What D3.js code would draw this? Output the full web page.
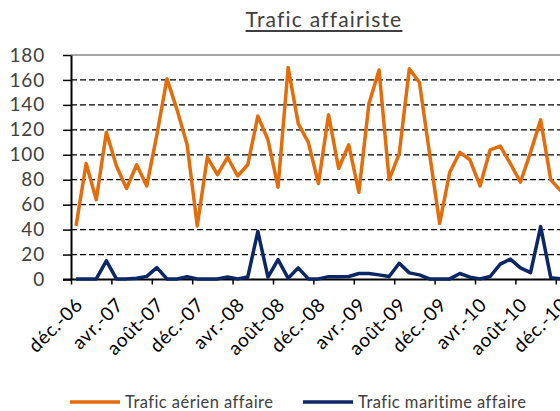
<!DOCTYPE html>
<html>
<head>
<meta charset="utf-8">
<script src="https://cdn.jsdelivr.net/npm/d3@7"></script>
<style>
  body { margin: 0; background: #fff; }
  svg { display: block; font-family: Lato, "Liberation Sans", sans-serif; }
</style>
</head>
<body>
<svg id="chart" width="560" height="411"></svg>
<script>
// monthly values, déc.-06 .. déc.-10
let aerien = [43, 93, 64, 118, 91, 73, 92, 75, 116, 161, 136, 108, 43, 98, 84, 98, 83, 92, 131, 112,
  74, 170, 125, 110, 77, 132, 89, 108, 70, 141, 168, 80, 101, 169, 158, 101, 45, 86, 102, 96,
  75, 104, 107, 93, 78, 102, 128, 80, 71];
let maritime = [0.5, 0.5, 0.5, 15, 0.5, 0.5, 1, 2.5, 9.5, 0.5, 0.5, 2.2, 0.5, 0.5, 0.5, 2, 0.5, 2, 38.5, 2,
  16, 1, 9.3, 0.5, 0.5, 2.3, 2.3, 2.4, 4.8, 4.8, 3.7, 2.4, 13, 5.3, 3.7, 0.5, 0.5, 0.5, 4.8, 1.9,
  0.5, 2.4, 12.3, 16.3, 9.3, 5.5, 42.4, 1.5, 0.5];
let tickLabels = ['déc.-06', 'avr.-07', 'août-07', 'déc.-07', 'avr.-08', 'août-08', 'déc.-08',
  'avr.-09', 'août-09', 'déc.-09', 'avr.-10', 'août-10', 'déc.-10'];
let yTicks = [0, 20, 40, 60, 80, 100, 120, 140, 160, 180];
let seriesNames = ['Trafic aérien affaire', 'Trafic maritime affaire'];

let orange = '#e46c0a';
let navy = '#0b2765';
let textGray = '#404040';

let svg = d3.select('#chart');
let plotLeft = 71, plotTop = 55, plotBottom = 279.5;
let step = 10.1;

let x = d3.scaleLinear()
  .domain([-0.5, aerien.length - 0.5])
  .range([plotLeft, plotLeft + aerien.length * step]);
let y = d3.scaleLinear().domain([0, 180]).range([plotBottom, plotTop]);
let plotRight = x.range()[1];

// title
let title = svg.append('text')
  .attr('x', 324)
  .attr('y', 27)
  .attr('text-anchor', 'middle')
  .attr('font-size', 21)
  .attr('letter-spacing', 1.2)
  .attr('fill', textGray)
  .text('Trafic affairiste');
let tb = title.node().getBBox();
svg.append('line')
  .attr('x1', tb.x).attr('x2', tb.x + tb.width)
  .attr('y1', 31).attr('y2', 31)
  .attr('stroke', '#000')
  .attr('stroke-width', 1.5);

// gridlines
svg.append('g')
  .selectAll('line')
  .data(yTicks.filter(function(d) { return d > 0 && d < 180; }))
  .join('line')
  .attr('x1', plotLeft).attr('x2', plotRight)
  .attr('y1', function(d) { return y(d); })
  .attr('y2', function(d) { return y(d); })
  .attr('stroke', '#000')
  .attr('stroke-width', 1.3)
  .attr('stroke-dasharray', '6,3');

svg.append('line')
  .attr('x1', plotLeft).attr('x2', plotRight)
  .attr('y1', y(180)).attr('y2', y(180))
  .attr('stroke', '#888')
  .attr('stroke-width', 1.5);

// y axis
let yAxis = svg.append('g')
  .attr('transform', 'translate(' + plotLeft + ',0)')
  .call(d3.axisLeft(y).tickValues(yTicks).tickSize(8).tickPadding(18).tickSizeOuter(0));
yAxis.select('.domain').attr('stroke', '#000').attr('stroke-width', 2);
yAxis.selectAll('.tick line').attr('stroke', '#000').attr('stroke-width', 1.5);
yAxis.selectAll('.tick text')
  .attr('font-size', 19)
  .attr('letter-spacing', 0.8)
  .attr('font-family', 'Lato, sans-serif')
  .attr('fill', textGray);

// x axis
let xTickVals = tickLabels.map(function(d, i) { return i * 4 - 0.5; });
let xAxis = svg.append('g')
  .attr('transform', 'translate(0,' + plotBottom + ')')
  .call(d3.axisBottom(x).tickValues(xTickVals).tickSize(5).tickSizeOuter(0)
    .tickFormat(function(d, i) { return tickLabels[i]; }));
xAxis.select('.domain').attr('stroke', '#000').attr('stroke-width', 2)
  .attr('d', 'M' + (plotLeft - 8) + ',0H' + plotRight);
xAxis.selectAll('.tick line').attr('stroke', '#000').attr('stroke-width', 1.5);
xAxis.selectAll('.tick text')
  .attr('font-size', 19)
  .attr('letter-spacing', 0.6)
  .attr('font-family', 'Lato, sans-serif')
  .attr('fill', '#000')
  .attr('text-anchor', 'end')
  .attr('transform', 'translate(3,17) rotate(-45)')
  .attr('dy', '0.71em')
  .attr('y', 0);

// lines
let line = d3.line()
  .x(function(d, i) { return x(i); })
  .y(function(d) { return y(d); });

svg.append('path')
  .datum(aerien)
  .attr('d', line)
  .attr('fill', 'none')
  .attr('stroke', orange)
  .attr('stroke-width', 3.5)
  .attr('stroke-linejoin', 'round');

svg.append('path')
  .datum(maritime)
  .attr('d', line)
  .attr('fill', 'none')
  .attr('stroke', navy)
  .attr('stroke-width', 3.5)
  .attr('stroke-linejoin', 'round');

// legend
let legend = svg.append('g');
let legendItems = [
  { name: seriesNames[0], color: orange, x: 70 },
  { name: seriesNames[1], color: navy, x: 303 }
];
legendItems.forEach(function(it) {
  legend.append('line')
    .attr('x1', it.x).attr('x2', it.x + 50)
    .attr('y1', 402).attr('y2', 402)
    .attr('stroke', it.color)
    .attr('stroke-width', 3.5);
  legend.append('text')
    .attr('x', it.x + 55)
    .attr('y', 408)
    .attr('font-size', 16.5)
    .attr('letter-spacing', 0.45)
    .attr('fill', textGray)
    .text(it.name);
});
</script>
</body>
</html>
